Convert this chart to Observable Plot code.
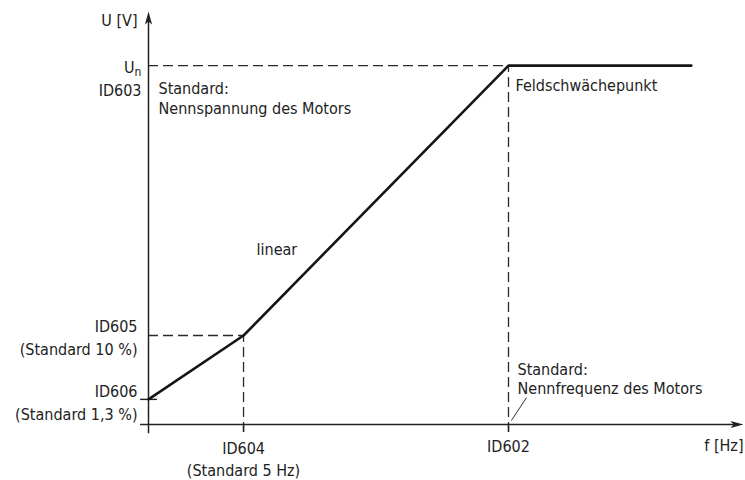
<!DOCTYPE html>
<html>
<head>
<meta charset="utf-8">
<script src="https://cdn.jsdelivr.net/npm/d3@7"></script>
<script src="https://cdn.jsdelivr.net/npm/@observablehq/plot@0.6"></script>
<style>
  html, body { margin: 0; padding: 0; background: #fff; }
  #chart svg { display: block; }
</style>
</head>
<body>
<div id="chart"></div>
<script>
// Schematic U/f characteristic (relative units: f / f_nominal, U / U_n)
const curveF = [0, 0.264, 1.0, 1.508];
const curveU = [0.07, 0.248, 1.0, 1.0];

const fMarkers = [0.264, 1.0];            // ID604, ID602
const fLabels = ["ID604\n(Standard 5 Hz)", "ID602"];
const uMarkers = [0.07, 0.248, 1.0];      // ID606, ID605, U_n
const uLabels = ["ID606\n(Standard 1,3 %)", "ID605\n(Standard 10 %)"];

const fMax = 1.65, uMax = 1.148, axisMin = -0.022;

const curve = curveF.map((f, i) => ({f, u: curveU[i]}));

const FONT = `"Liberation Sans Narrow", "DejaVu Sans Condensed", "Roboto Condensed", sans-serif`;
const TXT = "#222";

// narrow filled arrowhead symbol (points up)
const arrowHead = {
  draw(ctx, size) {
    const l = 12, w = 3.6;
    ctx.moveTo(0, -l / 2 - 1);
    ctx.lineTo(w, l / 2);
    ctx.lineTo(0, l / 2 - 3);
    ctx.lineTo(-w, l / 2);
    ctx.closePath();
  }
};

const plot = Plot.plot({
  width: 745,
  height: 480,
  marginLeft: 148,
  marginRight: 3,
  marginTop: 12,
  marginBottom: 56,
  x: {domain: [0, fMax], axis: null},
  y: {domain: [0, uMax], axis: null},
  style: {fontFamily: FONT, fontSize: "16px", color: TXT, background: "#fff"},
  marks: [
    // dashed guide lines
    Plot.ruleY([uMarkers[1]], {x1: 0, x2: fMarkers[0], stroke: "#2a2a2a", strokeWidth: 1.3, strokeDasharray: "10,5"}),
    Plot.ruleY([uMarkers[2]], {x1: 0, x2: fMarkers[1], stroke: "#2a2a2a", strokeWidth: 1.3, strokeDasharray: "10,5"}),
    Plot.ruleX([fMarkers[0]], {y1: axisMin, y2: uMarkers[1], stroke: "#2a2a2a", strokeWidth: 1.3, strokeDasharray: "10,5"}),
    Plot.ruleX([fMarkers[1]], {y1: axisMin, y2: uMarkers[2], stroke: "#2a2a2a", strokeWidth: 1.3, strokeDasharray: "10,5"}),
    // solid ticks below x axis
    Plot.ruleX(fMarkers, {y1: axisMin, y2: 0, stroke: "#222", strokeWidth: 1.4}),
    // axes
    Plot.ruleY([0], {x1: axisMin, x2: fMax - 0.02, stroke: "#222", strokeWidth: 1.5}),
    Plot.ruleX([0], {y1: -0.026, y2: uMax - 0.02, stroke: "#222", strokeWidth: 1.5}),
    // tick on y axis at ID606
    Plot.ruleY([uMarkers[0]], {x1: -0.022, x2: 0.025, stroke: "#222", strokeWidth: 1.4}),
    // arrowheads
    Plot.dot([{f: 0, u: uMax}], {x: "f", y: "u", symbol: arrowHead, fill: "#222", stroke: "none", r: 6, dy: 6}),
    Plot.dot([{f: fMax, u: 0}], {x: "f", y: "u", symbol: arrowHead, fill: "#222", stroke: "none", r: 6, rotate: 90, dx: -6}),
    // the characteristic
    Plot.line(curve, {x: "f", y: "u", stroke: "#151515", strokeWidth: 2.6, strokeLinejoin: "round"}),
    // leader line
    Plot.link([{x1: 1.008, y1: 0.011, x2: 1.05, y2: 0.075}], {x1: "x1", y1: "y1", x2: "x2", y2: "y2", stroke: "#333", strokeWidth: 1}),

    // axis titles
    Plot.text(["U [V]"], {x: 0, y: uMax, textAnchor: "end", dx: -11, dy: 8, fill: TXT}),
    Plot.text(["f [Hz]"], {x: fMax, y: 0, textAnchor: "end", dx: 1, dy: 21, fill: TXT}),

    // y labels
    Plot.text(["U"], {x: 0, y: uMarkers[2], textAnchor: "end", dx: -14, dy: 2, fill: TXT}),
    Plot.text(["n"], {x: 0, y: uMarkers[2], textAnchor: "start", dx: -14, dy: 7, fontSize: 12, fill: TXT}),
    Plot.text(["ID603"], {x: 0, y: uMarkers[2], textAnchor: "end", dx: -7, dy: 25, fill: TXT}),
    Plot.text([uLabels[1]], {x: 0, y: uMarkers[1], textAnchor: "end", dx: -11, dy: 1, lineHeight: 1.42, fill: TXT}),
    Plot.text([uLabels[0]], {x: 0, y: uMarkers[0], textAnchor: "end", dx: -11, dy: 1.5, lineHeight: 1.42, fill: TXT}),

    // x labels
    Plot.text([fLabels[0]], {x: fMarkers[0], y: 0, textAnchor: "middle", dy: 33, lineHeight: 1.38, fill: TXT}),
    Plot.text([fLabels[1]], {x: fMarkers[1], y: 0, textAnchor: "middle", dy: 22, fill: TXT}),

    // annotations
    Plot.text(["Standard:\nNennspannung des Motors"], {x: 0, y: uMarkers[2], textAnchor: "start", dx: 10, dy: 32, lineHeight: 1.22, fill: TXT}),
    Plot.text(["Feldschwächepunkt"], {x: fMarkers[1], y: uMarkers[2], textAnchor: "start", dx: 7, dy: 20, fill: TXT}),
    Plot.text(["linear"], {x: 0.3, y: 0.487, textAnchor: "start", fill: TXT}),
    Plot.text(["Standard:\nNennfrequenz des Motors"], {x: fMarkers[1], y: 0, textAnchor: "start", dx: 9, dy: -46.5, lineHeight: 1.2, fill: TXT})
  ]
});

document.getElementById("chart").appendChild(plot);
</script>
</body>
</html>
